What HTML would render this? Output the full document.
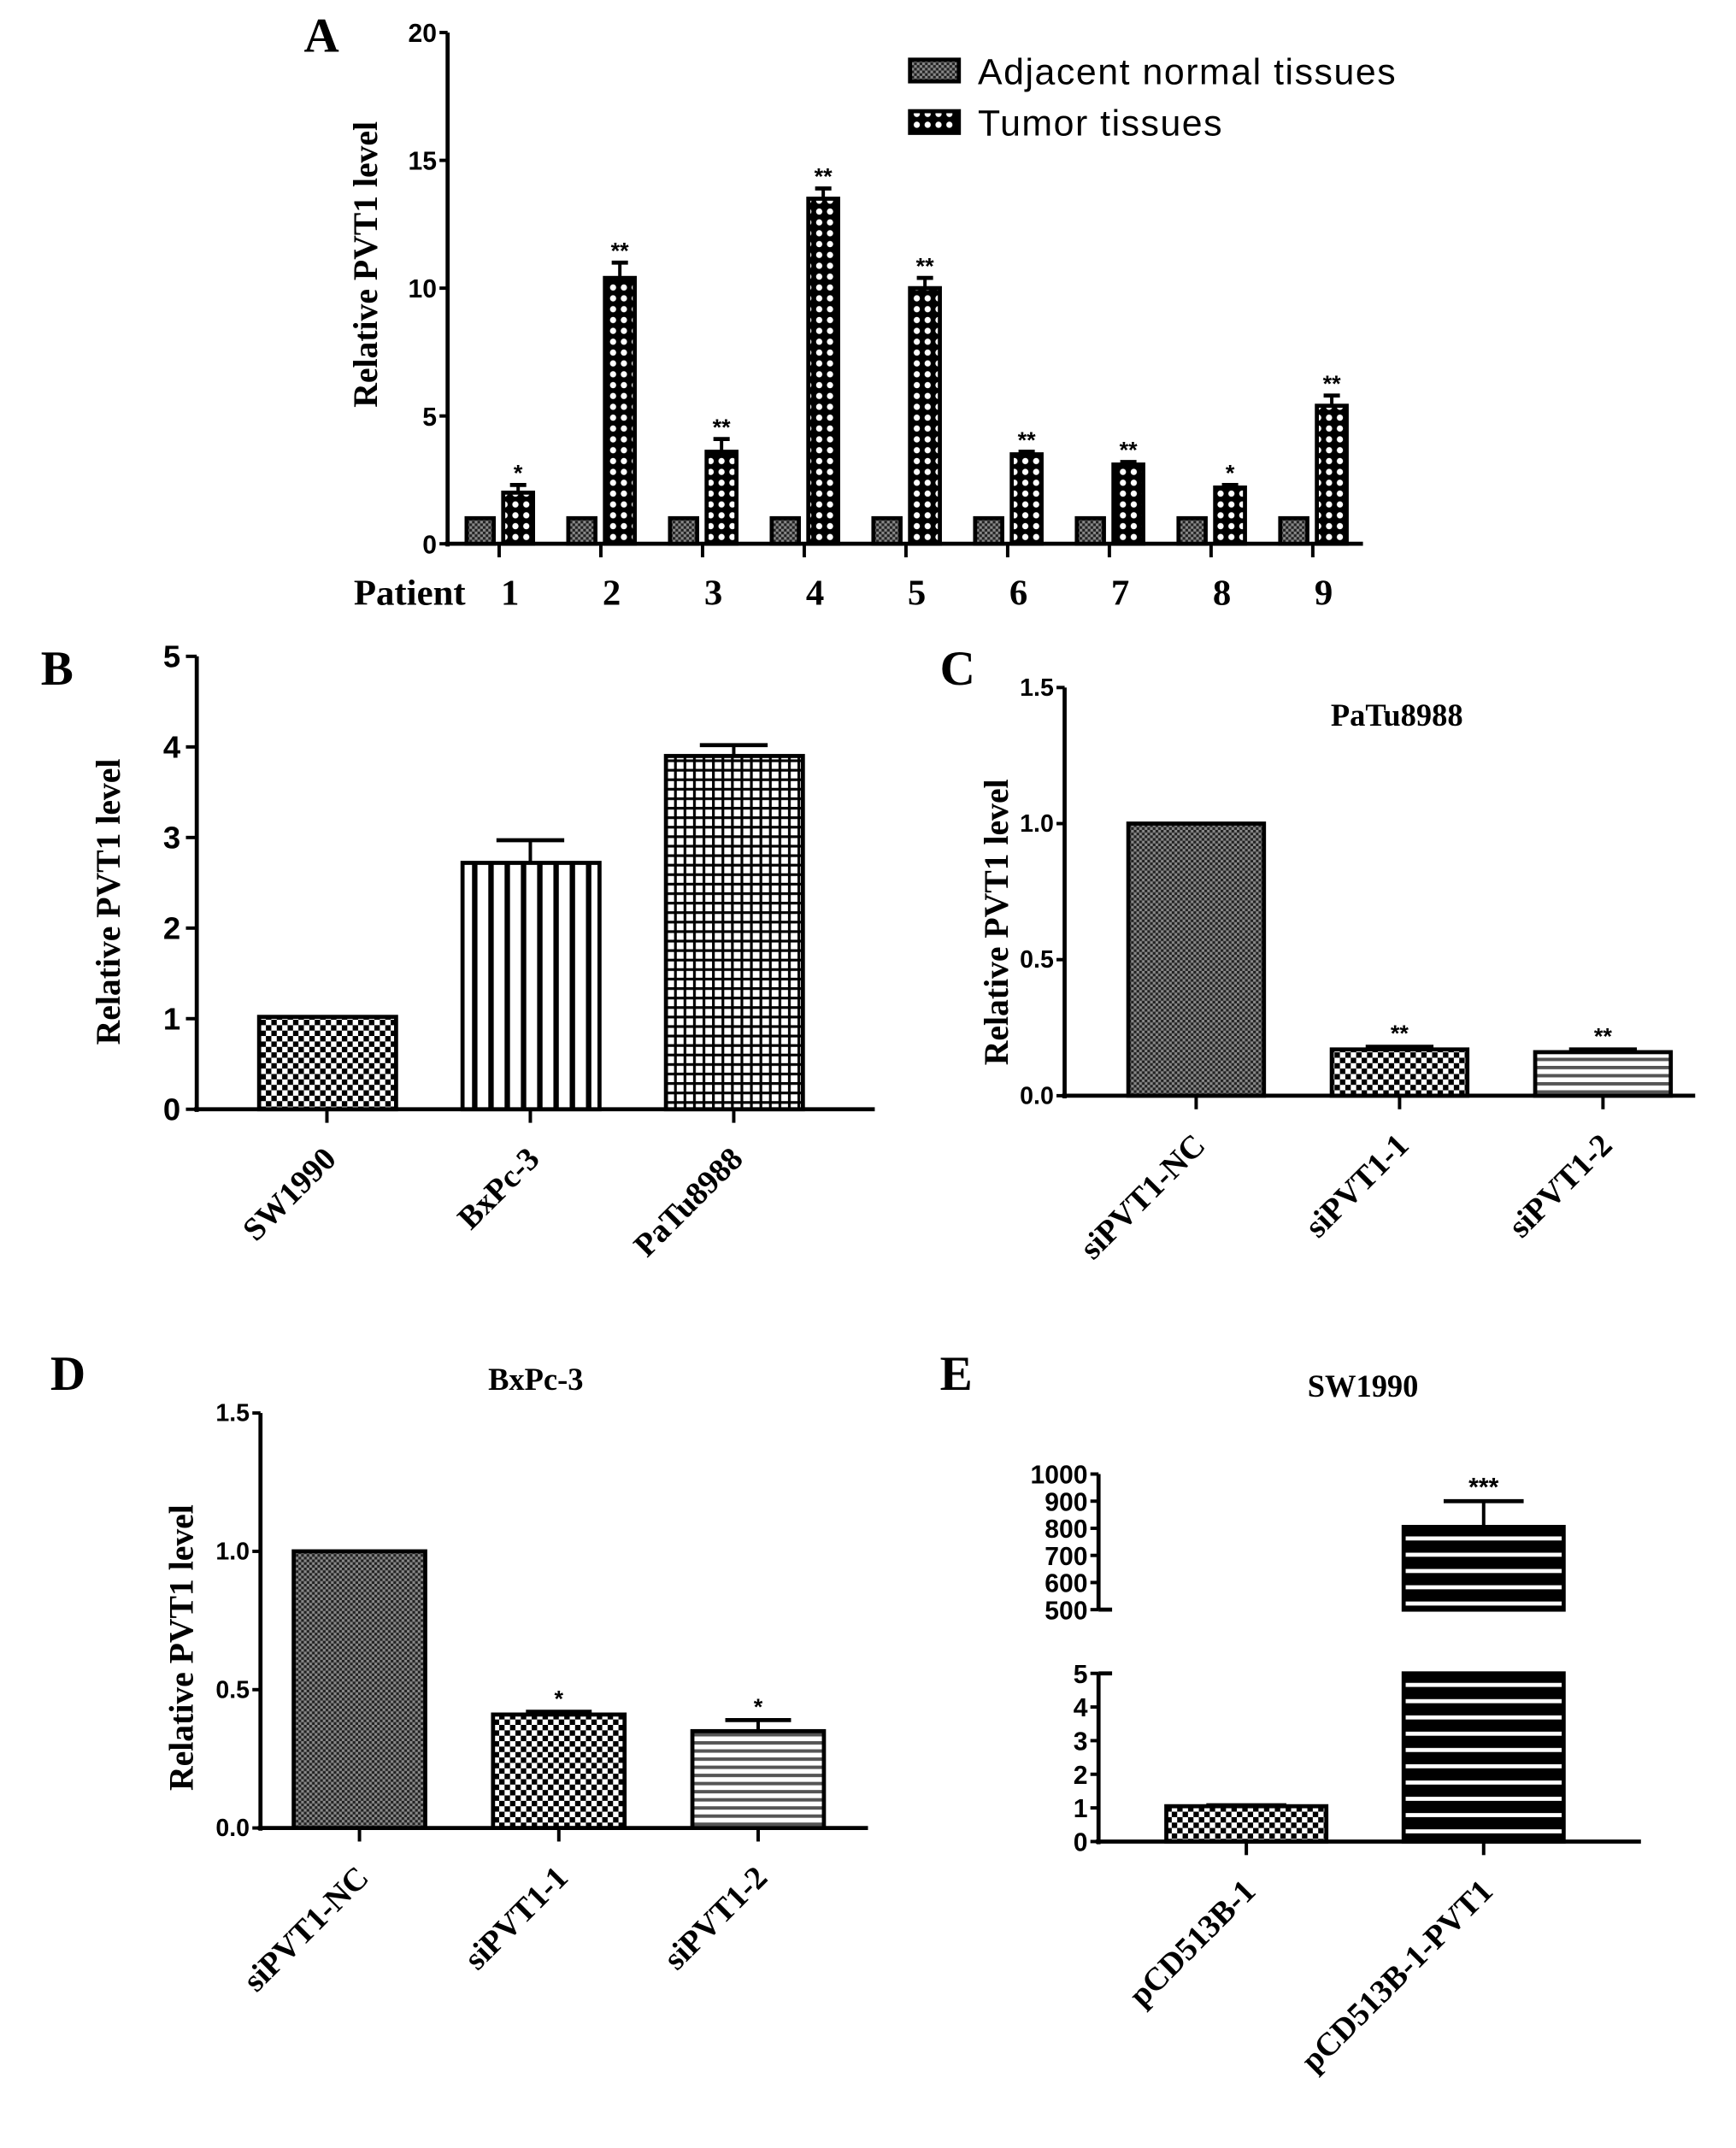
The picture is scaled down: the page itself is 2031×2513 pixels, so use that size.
<!DOCTYPE html>
<html><head><meta charset="utf-8"><style>
html,body{margin:0;padding:0;background:#fff}
svg{display:block}
.ser{font-family:"Liberation Serif",serif;font-weight:bold}
.san{font-family:"Liberation Sans",sans-serif;font-weight:bold}
</style></head><body>
<svg id="fig" xmlns="http://www.w3.org/2000/svg" width="2031" height="2513" viewBox="0 0 1280 1584">
<defs>
<pattern id="chk" width="8" height="8" patternUnits="userSpaceOnUse"><rect width="8" height="8" fill="#fff"/><rect width="4" height="4" fill="#000"/><rect x="4" y="4" width="4" height="4" fill="#000"/></pattern>
<pattern id="fchk" width="4" height="4" patternUnits="userSpaceOnUse"><rect width="4" height="4" fill="#888"/><rect width="2" height="2" fill="#222"/><rect x="2" y="2" width="2" height="2" fill="#222"/></pattern>
<pattern id="dot" width="8" height="8" patternUnits="userSpaceOnUse"><rect width="8" height="8" fill="#000"/><circle cx="4" cy="4" r="2.3" fill="#fff"/></pattern>
<pattern id="vl" width="12" height="12" patternUnits="userSpaceOnUse"><rect width="12" height="12" fill="#fff"/><rect width="4" height="12" fill="#000"/></pattern>
<pattern id="grid" width="7" height="7" patternUnits="userSpaceOnUse"><rect width="7" height="7" fill="#fff"/><rect width="2" height="7" fill="#000"/><rect width="7" height="2" fill="#000"/></pattern>
<pattern id="hl" width="6" height="6" patternUnits="userSpaceOnUse"><rect width="6" height="6" fill="#fff"/><rect width="6" height="2.5" fill="#555"/></pattern>
<pattern id="hlb" width="12" height="12" patternUnits="userSpaceOnUse"><rect width="12" height="12" fill="#000"/><rect y="5" width="12" height="3" fill="#fff"/></pattern>
</defs>
<g id="root"></g>
</svg>
<script>
// Panel A data
const aPatients=["1","2","3","4","5","6","7","8","9"];
const aNormal=[1,1,1,1,1,1,1,1,1];
const aTumor=[2.0,10.4,3.6,13.5,10.0,3.5,3.1,2.2,5.4];
const aErr=[0.3,0.6,0.5,0.4,0.4,0.1,0.1,0.1,0.4];
const aStars=["*","**","**","**","**","**","**","*","**"];
const aTicks=[0,5,10,15,20];
// Panel B
const bCats=["SW1990","BxPc-3","PaTu8988"];
const bVals=[1.02,2.72,3.9];
const bErr=[0,0.25,0.12];
const bTicks=[0,1,2,3,4,5];
// Panel C
const cCats=["siPVT1-NC","siPVT1-1","siPVT1-2"];
const cVals=[1.0,0.17,0.16];
const cErr=[0,0.01,0.01];
const cStars=["","**","**"];
const cTicks=["0.0","0.5","1.0","1.5"];
// Panel D
const dCats=["siPVT1-NC","siPVT1-1","siPVT1-2"];
const dVals=[1.0,0.41,0.35];
const dErr=[0,0.01,0.04];
const dStars=["","*","*"];
const dTicks=["0.0","0.5","1.0","1.5"];
// Panel E
const eCats=["pCD513B-1","pCD513B-1-PVT1"];
const eVals=[1.05,805];
const eErr=[0.03,95];
const eStars=["","***"];
const eTicksLow=[0,1,2,3,4,5];
const eTicksHigh=[500,600,700,800,900,1000];

const NS="http://www.w3.org/2000/svg";
const root=document.getElementById('root');
function mk(tag,attrs,parent,txt){const e=document.createElementNS(NS,tag);for(const k in attrs)e.setAttribute(k,attrs[k]);if(txt!==undefined)e.textContent=txt;(parent||root).appendChild(e);return e;}
function line(x1,y1,x2,y2,w,p){const e=mk('line',{x1,y1,x2,y2,stroke:'#000','stroke-width':w||3},p);

return e;}
function txt(x,y,s,cls,size,anchor,p,rot){const a={x,y,class:cls,'font-size':size,'text-anchor':anchor||'middle'};if(rot)a.transform=rot;const e=mk('text',a,p,s);return e;}
function bar(x,w,yTop,yBot,fill,p){const e=mk('rect',{x,y:yTop,width:w,height:yBot-yTop,fill:'url(#'+fill+')',stroke:'#000','stroke-width':3},p);

return e;}
function errbar(cx,yTop,yVal,hw,p){line(cx,yVal,cx,yTop,2.5,p);line(cx-hw,yTop,cx+hw,yTop,3,p);}
function yLabel(x,y,p){const t=txt(x,y,"Relative PVT1 level","ser",25,'middle',p,`rotate(-90 ${x} ${y})`);

}
function rotLabel(x,y,s,p){const t=txt(x,y,s,"ser",24,'end',p,`rotate(-45 ${x} ${y})`);

}

// ---------- Panel A ----------
(function(){
const g=mk('g',{});
const ax=330,y0=401,yt=24,ymax=20,x1=1005;
const Y=v=>y0-(y0-yt)*v/ymax;
const X=i=>368+i*75;
txt(237,38,"A","ser",36,'middle',g);
line(ax,yt,ax,y0+2,3,g);line(ax-2,y0,x1,y0,3,g);
aTicks.forEach(t=>{line(ax-6,Y(t),ax,Y(t),2.5,g);txt(ax-8,Y(t)+7,String(t),"san",19,'end',g);});
yLabel(278,195,g);
aPatients.forEach((p,i)=>{const c=X(i);
line(c,y0,c,y0+10,2.5,g);
bar(c-24,20,Y(aNormal[i]),y0,'fchk',g);
bar(c+3,22,Y(aTumor[i]),y0,'dot',g);
errbar(c+14,Y(aTumor[i]+aErr[i]),Y(aTumor[i]),6,g);
txt(c+14,Y(aTumor[i]+aErr[i])-3,aStars[i],"san",17,'middle',g);
txt(c+8,446,p,"ser",27,'middle',g);});
txt(302,446,"Patient","ser",27,'middle',g);
const l=mk('g',{},g);
mk('rect',{x:671,y:44,width:36,height:16,fill:'url(#fchk)',stroke:'#000','stroke-width':3},l);
mk('rect',{x:671,y:82,width:36,height:16,fill:'url(#dot)',stroke:'#000','stroke-width':3},l);
const t1=txt(721,62,"Adjacent normal tissues","",27,'start',l);t1.setAttribute('font-family','Liberation Sans, sans-serif');t1.setAttribute('textLength','308');
const t2=txt(721,100,"Tumor tissues","",27,'start',l);t2.setAttribute('font-family','Liberation Sans, sans-serif');t2.setAttribute('textLength','180');
})();

// ---------- Panel B ----------
(function(){
const g=mk('g',{});
const ax=145,y0=818,yt=484,ymax=5,x1=645;
const Y=v=>y0-(y0-yt)*v/ymax;
const fills=['chk','vl','grid'];
txt(42,505,"B","ser",36,'middle',g);
line(ax,yt,ax,y0+2,3,g);line(ax-2,y0,x1,y0,3,g);
bTicks.forEach(t=>{line(ax-8,Y(t),ax,Y(t),2.5,g);txt(ax-12,Y(t)+8,String(t),"san",23,'end',g);});
yLabel(88,665,g);
bCats.forEach((c,i)=>{const cx=241+i*150;
bar(cx-50,101,Y(bVals[i]),y0,fills[i],g);
if(bErr[i])errbar(cx,Y(bVals[i]+bErr[i]),Y(bVals[i]),25,g);
line(cx,y0,cx,y0+10,2.5,g);
rotLabel(cx+8,y0+38,c,g);});
})();

// ---------- generic small panels ----------
function smallPanel(name,letter,lx,ly,title,tx,ty,ax,y0,yt,ymax,x1,cx0,pitch,bw,cats,vals,errs,stars,ticks,fills,labX,labY){
const g=mk('g',{});
const Y=v=>y0-(y0-yt)*v/ymax;
txt(lx,ly,letter,"ser",36,'middle',g);
txt(tx,ty,title,"ser",23,'middle',g);
line(ax,yt,ax,y0+2,3,g);line(ax-2,y0,x1,y0,3,g);
ticks.forEach(t=>{const v=parseFloat(t);line(ax-6,Y(v),ax,Y(v),2.5,g);txt(ax-8,Y(v)+6,t,"san",18,'end',g);});
yLabel(labX,labY,g);
cats.forEach((c,i)=>{const cx=cx0+i*pitch;
bar(cx-bw/2,bw,Y(vals[i]),y0,fills[i],g);
if(errs[i])errbar(cx,Y(vals[i]+errs[i]),Y(vals[i]),bw/4,g);
if(stars[i])txt(cx,Y(vals[i]+errs[i])-4,stars[i],"san",17,'middle',g);
line(cx,y0,cx,y0+10,2.5,g);
rotLabel(cx+8,y0+38,c,g);});
}
smallPanel('panel-c','C',706,505,'PaTu8988',1030,535,785,808,507,1.5,1250,882,150,100,cCats,cVals,cErr,cStars,cTicks,['fchk','chk','hl'],743,680);
smallPanel('panel-d','D',50,1025,'BxPc-3',395,1025,192,1348,1042,1.5,640,265,147,97,dCats,dVals,dErr,dStars,dTicks,['fchk','chk','hl'],142,1215);

// ---------- Panel E (broken axis) ----------
(function(){
const g=mk('g',{});
const ax=810,y0=1358,y5=1234,yh0=1187,yh1=1087,x1=1210;
const YL=v=>y0-(y0-y5)*v/5;
const YH=v=>yh0-(yh0-yh1)*(v-500)/500;
txt(705,1025,"E","ser",36,'middle',g);
txt(1005,1030,"SW1990","ser",23,'middle',g);
line(ax,y5,ax,y0+2,3,g);line(ax,yh1,ax,yh0,3,g);line(ax-2,y0,x1,y0,3,g);
eTicksLow.forEach(t=>{line(ax-6,YL(t),ax,YL(t),2.5,g);txt(ax-8,YL(t)+7,String(t),"san",19,'end',g);});
eTicksHigh.forEach(t=>{line(ax-6,YH(t),ax,YH(t),2.5,g);txt(ax-8,YH(t)+7,String(t),"san",19,'end',g);});
line(ax,y5,ax+10,y5,3,g);line(ax,yh0,ax+10,yh0,3,g);
const fills=['chk','hlb'];
eCats.forEach((c,i)=>{const cx=919+i*175,bw=118;
if(eVals[i]<=5){bar(cx-bw/2,bw,YL(eVals[i]),y0,fills[i],g);
errbar(cx,YL(eVals[i]+eErr[i]),YL(eVals[i]),bw/4,g);}
else{const b1=mk('rect',{x:cx-bw/2,y:YL(5),width:bw,height:y0-YL(5),fill:'url(#hlb)',stroke:'#000','stroke-width':3},g);


const b2=mk('rect',{x:cx-bw/2,y:YH(eVals[i]),width:bw,height:yh0-YH(eVals[i]),fill:'url(#hlb)',stroke:'#000','stroke-width':3},g);


errbar(cx,YH(eVals[i]+eErr[i]),YH(eVals[i]),bw/4,g);
txt(cx,YH(eVals[i]+eErr[i])-4,eStars[i],"san",19,'middle',g);}
line(cx,y0,cx,y0+10,2.5,g);
rotLabel(cx+8,y0+38,c,g);});
})();
</script>
</body></html>
